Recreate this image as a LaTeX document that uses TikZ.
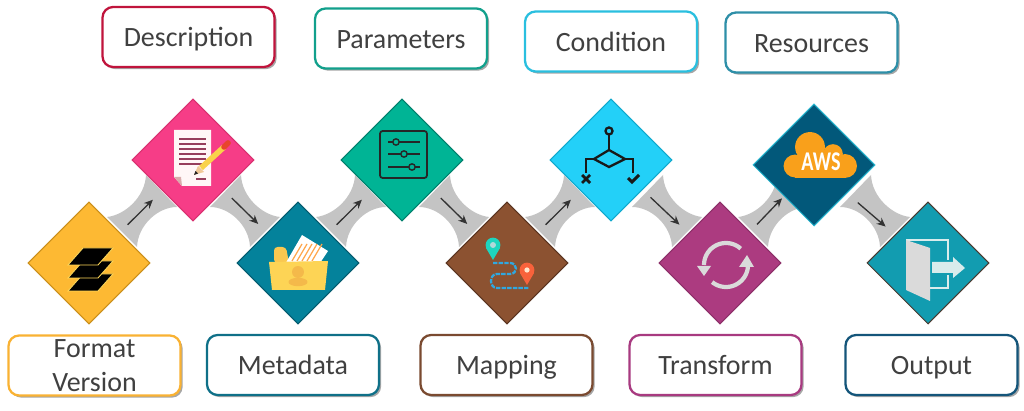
\documentclass[tikz,border=0pt]{standalone}
\usepackage{fontspec}
\setmainfont{Carlito}
\usetikzlibrary{shapes.geometric,arrows.meta,shadows,backgrounds}

\definecolor{band}{HTML}{C4C4C4}
\definecolor{ink}{HTML}{404040}
\definecolor{lightgrey}{HTML}{DADADA}

\tikzset{
    step box/.style={diamond, aspect=1, minimum width=2.44cm, minimum height=2.44cm, inner sep=0pt, line width=.6pt},
    label box/.style={draw, rounded corners=6pt, line width=1.3pt, fill=white, minimum width=3.44cm, minimum height=1.2cm,
        inner sep=0pt, align=center, text=ink, font=\fontsize{15.9}{19.3}\selectfont,
        drop shadow={shadow xshift=1.2pt, shadow yshift=-1.2pt, opacity=.35, fill=black}},
    one line/.style={text height=14pt, text depth=3.1pt},
    flow/.style={-{Stealth[length=5pt,width=4.5pt]}, line width=.75pt, draw=black!80},
}

% grey link under two diamonds, given from the lower one
\newcommand{\linkband}[2]{
    \fill[band, shift={(#1)}, xscale=#2] (18,-46) .. controls (36,-48) and (56,-66) .. (57,-88)
        -- (88,-56) .. controls (69,-56) and (49,-38) .. (48,-16) -- cycle;
}

\begin{document}
\begin{tikzpicture}[x=.02cm, y=-.02cm]
    \useasboundingbox (0,0) rectangle (1024,411);

    % Nodes
    \node[step box, fill={rgb,255:red,253;green,185;blue,51}, draw={rgb,255:red,201;green,142;blue,26}] (1) at (89,263) {};
    \node[step box, fill={rgb,255:red,246;green,61;blue,135}, draw={rgb,255:red,216;green,48;blue,111}] (2) at (193,160) {};
    \node[step box, fill={rgb,255:red,4;green,130;blue,155}, draw={rgb,255:red,4;green,90;blue,110}] (3) at (298,263) {};
    \node[step box, fill={rgb,255:red,0;green,180;blue,149}, draw={rgb,255:red,0;green,127;blue,107}] (4) at (402,160) {};
    \node[step box, fill={rgb,255:red,140;green,82;blue,49}, draw={rgb,255:red,90;green,52;blue,32}] (5) at (507,263) {};
    \node[step box, fill={rgb,255:red,35;green,208;blue,248}, draw={rgb,255:red,16;green,168;blue,204}] (6) at (611,160) {};
    \node[step box, fill={rgb,255:red,172;green,59;blue,128}, draw={rgb,255:red,140;green,47;blue,104}] (7) at (720,263) {};
    \node[step box, fill={rgb,255:red,2;green,88;blue,122}, draw={rgb,255:red,40;green,182;blue,208}] (8) at (814,165) {};
    \node[step box, fill={rgb,255:red,18;green,156;blue,176}, draw={rgb,255:red,74;green,58;blue,48}] (9) at (928,263) {};

    % Labels
    \node[label box, one line, draw={rgb,255:red,192;green,20;blue,60}] (description) at (188.5,37) {Description};
    \node[label box, one line, draw={rgb,255:red,18;green,160;blue,140}] (parameters) at (401,38.5) {Parameters};
    \node[label box, one line, draw={rgb,255:red,42;green,191;blue,223}] (condition) at (611,41.5) {Condition};
    \node[label box, one line, draw={rgb,255:red,46;green,143;blue,168}] (resources) at (811.5,42.5) {Resources};
    \node[label box, draw={rgb,255:red,249;green,178;blue,51}] (format) at (94.5,365.5) {Format\\Version};
    \node[label box, one line, draw={rgb,255:red,15;green,112;blue,136}] (metadata) at (293,365) {Metadata};
    \node[label box, one line, draw={rgb,255:red,122;green,74;blue,48}] (mapping) at (506.5,365) {Mapping};
    \node[label box, one line, draw={rgb,255:red,168;green,58;blue,128}] (transform) at (715.5,365) {Transform};
    \node[label box, one line, draw={rgb,255:red,20;green,85;blue,122}] (output) at (931.5,365) {Output};

    % Links
    \begin{scope}[on background layer]
        \linkband{1}{1}
        \linkband{3}{-1}
        \linkband{3}{1}
        \linkband{5}{-1}
        \linkband{5}{1}
        \linkband{7}{-1}
        \linkband{7}{1}
        \linkband{9}{-1}
    \end{scope}

    % Edges
    \draw[flow, shorten <=6.2pt, shorten >=7.4pt] (1) -- (2);
    \draw[flow, shorten <=6.2pt, shorten >=7pt] (2) -- (3);
    \draw[flow, shorten <=6.2pt, shorten >=7.4pt] (3) -- (4);
    \draw[flow, shorten <=6.2pt, shorten >=7pt] (4) -- (5);
    \draw[flow, shorten <=6.2pt, shorten >=7.4pt] (5) -- (6);
    \draw[flow, shorten <=6.2pt, shorten >=7pt] (6) -- (7);
    \draw[flow, shorten <=5.7pt, shorten >=1.5pt] (7) -- (8);
    \draw[flow, shorten <=8pt, shorten >=7pt] (8) -- (9);

    % Icon: layers
    \begin{scope}[shift={(1)}]
        \foreach \dy in {26,13,0}
            \draw[fill=black, draw={rgb,255:red,253;green,215;blue,90}, line width=.5pt] (-21,2+\dy) -- (-6,-15+\dy) -- (24,-15+\dy) -- (9,2+\dy) -- cycle;
    \end{scope}

    % Icon: document and pencil
    \begin{scope}[shift={(2)}]
        \fill[white!88!pink] (-19,-30) -- (18,-30) -- (18,26) -- (-11,26) -- (-19,17) -- cycle;
        \fill[pink!70!gray] (-19,17) -- (-12,17) -- (-11,26) -- cycle;
        \foreach \ly in {-21,-16,-11,-6,-1,4}
            \draw[line width=.9pt, draw={rgb,255:red,150;green,62;blue,92}] (-14,\ly) -- (13,\ly);
        \draw[line width=.9pt, draw={rgb,255:red,150;green,62;blue,92}] (3,19) -- (13,19);
        \draw[line width=3.2pt, draw={rgb,255:red,249;green,210;blue,74}] (8,8) -- (31,-13);
        \draw[line width=3.2pt, line cap=round, draw={rgb,255:red,232;green,69;blue,44}] (31,-13) -- (35,-17);
        \fill[fill={rgb,255:red,240;green,200;blue,150}] (1,15) -- (5,6) -- (11,12) -- cycle;
        \fill[black!85] (1,15) -- (2.5,11) -- (5,13.5) -- cycle;
    \end{scope}

    % Icon: folder
    \begin{scope}[shift={(3)}]
        \fill[rounded corners=2pt, fill={rgb,255:red,250;green,200;blue,80}] (-24,-16) -- (-12,-16) -- (-9,0) -- (-24,0) -- cycle;
        \fill[white] (4,-28) -- (30,-12) -- (20,3) -- (-14,3) -- cycle;
        \foreach \lx in {0,5,10,15,20}
            \draw[line width=.7pt, draw=orange!70] (-6+\lx,-2) -- (4+\lx,-19);
        \fill[fill={rgb,255:red,253;green,212;blue,85}] (-29,-1) -- (30,-2) -- (27,27) -- (-26,27) -- cycle;
        \fill[fill={rgb,255:red,244;green,185;blue,74}] (0,9) circle (3.4pt);
        \fill[fill={rgb,255:red,244;green,185;blue,74}] (0,19) ellipse (5.4pt and 2.4pt);
    \end{scope}

    % Icon: sliders
    \begin{scope}[shift={(4)}]
        \draw[line width=1pt, rounded corners=1.5pt, draw=black!85] (-22,-29) rectangle (25,18);
        \foreach \ky/\kx in {-18/-6,-6/2,7/10} {
            \draw[line width=.9pt, draw=black!85] (-14,\ky) -- (18,\ky);
            \draw[line width=.8pt, draw=black!85, fill={rgb,255:red,0;green,180;blue,149}] (\kx,\ky) circle (1.8pt);
        }
    \end{scope}

    % Icon: route with two pins
    \begin{scope}[shift={(5)}]
        \draw[line width=1.3pt, dash pattern=on 2.5pt off .7pt, draw={rgb,255:red,48;green,168;blue,224}]
            (-14,0) -- (3,0) .. controls (11,0) and (11,11) .. (3,11) -- (-10,11) .. controls (-18,11) and (-18,25) .. (-10,25) -- (22,25);
        \fill[fill={rgb,255:red,30;green,213;blue,190}] (-14,-3) -- (-21,-15) -- (-7,-15) -- cycle;
        \fill[fill={rgb,255:red,30;green,213;blue,190}] (-14,-18) circle (4.2pt);
        \fill[white!70!teal] (-14,-18) circle (1.7pt);
        \fill[fill={rgb,255:red,248;green,98;blue,59}] (20,22) -- (13,10) -- (27,10) -- cycle;
        \fill[fill={rgb,255:red,248;green,98;blue,59}] (20,7) circle (4.2pt);
        \fill[white!80!orange] (20,7) circle (1.5pt);
    \end{scope}

    % Icon: decision
    \begin{scope}[shift={(6)}, line width=1.3pt, draw=black!90]
        \draw (-2,-29) circle (2pt);
        \draw (-2,-25) -- (-2,-10);
        \draw (-2,-10) -- (14,-1) -- (-2,7) -- (-17,-1) -- cycle;
        \draw (-17,-1) -- (-25,-1) -- (-25,13);
        \draw (14,-1) -- (22,-1) -- (22,13);
        \draw[line width=1.6pt] (-29,15) -- (-21,23) (-21,15) -- (-29,23);
        \draw[line width=1.8pt] (17,18) -- (21,22) -- (28,15);
    \end{scope}

    % Icon: refresh
    \begin{scope}[shift={(7)}, draw=lightgrey, line width=2.4pt]
        \draw plot[domain=180:312, samples=24] ({6+22*cos(\x)},{2+22*sin(\x)});
        \draw plot[domain=129:4, samples=24] ({6+22*cos(\x)},{2+22*sin(\x)});
        \fill[lightgrey] (-23,3) -- (-9,3) -- (-16,13) -- cycle;
        \fill[lightgrey] (19,4) -- (34,4) -- (27,-8) -- cycle;
    \end{scope}

    % Icon: cloud
    \begin{scope}[shift={(8)}]
        \fill[fill={rgb,255:red,249;green,160;blue,27}] (-4,-18) circle (8.5pt);
        \fill[fill={rgb,255:red,249;green,160;blue,27}] (-19,1) circle (6.5pt);
        \fill[fill={rgb,255:red,249;green,160;blue,27}] (31,1) circle (6.8pt);
        \fill[fill={rgb,255:red,249;green,160;blue,27}] (19,-11) circle (5.6pt);
        \fill[fill={rgb,255:red,249;green,160;blue,27}] (-19,-10) rectangle (31,13);
        \node[text=white, inner sep=0pt, font=\fontsize{14}{14}\bfseries\selectfont] (aws) at (7,-3) {\scalebox{.82}[1.1]{AWS}};
    \end{scope}

    % Icon: exit door
    \begin{scope}[shift={(9)}]
        \draw[line width=1.6pt, draw=white!85!teal] (-22,-23) -- (20,-23) -- (20,-3);
        \draw[line width=1.6pt, draw=white!85!teal] (20,12) -- (20,25) -- (2,25);
        \fill[lightgrey] (-22,-23) -- (2,-15) -- (2,38) -- (-22,27) -- cycle;
        \fill[white!85!teal] (4,-1) -- (25,-1) -- (25,-6) -- (37,5) -- (25,15) -- (25,10) -- (4,10) -- cycle;
    \end{scope}
\end{tikzpicture}
\end{document}
